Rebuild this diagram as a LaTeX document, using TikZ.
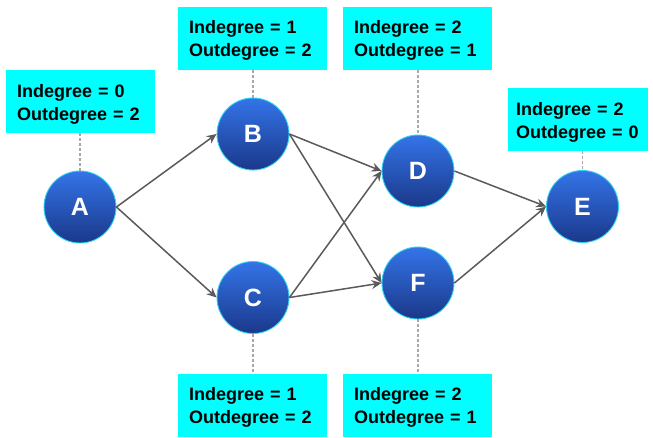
\documentclass[tikz,border=0pt]{standalone}
\usepackage{fontspec}
\setmainfont{Liberation Sans}
\usetikzlibrary{arrows.meta}

\definecolor{boxcyan}{HTML}{00FFFF}
\definecolor{balltop}{HTML}{3474E8}
\definecolor{ballbot}{HTML}{1A388A}
\definecolor{ballrim}{HTML}{2ED3F2}
\definecolor{edgegray}{HTML}{5A5A5A}
\definecolor{leadgray}{HTML}{A8A8A8}

\begin{document}
\begin{tikzpicture}[x=1pt,y=-1pt,
  vertex/.style={circle, minimum size=72pt, inner sep=0pt,
    top color=balltop, bottom color=ballbot, draw=ballrim, line width=0.9pt,
    text=white, font=\fontsize{25}{25}\selectfont\bfseries},
  degbox/.style={rectangle, fill=boxcyan, minimum height=63pt,
    inner xsep=11pt, inner ysep=0pt, align=left, text width=#1,
    font=\fontsize{18}{23}\selectfont\bfseries},
  edge/.style={draw=edgegray, line width=1.5pt,
    -{Stealth[length=10pt,width=9pt,inset=3.5pt]}},
  lead/.style={draw=leadgray, line width=1.3pt, dash pattern=on 3pt off 2pt}
]
\useasboundingbox (0,0) rectangle (653,437);

% vertices
\node[vertex] (A) at (80,207) {A};
\node[vertex] (B) at (253,134) {B};
\node[vertex] (C) at (253,297.5) {C};
\node[vertex] (D) at (418,171) {D};
\node[vertex] (F) at (418,283) {F};
\node[vertex] (E) at (582.5,206.5) {E};

% degree boxes
\node[degbox=127pt, anchor=north west] (Abox) at (6,70)
  {\rule{0pt}{18pt}Indegree = 0\\Outdegree = 2};
\node[degbox=127pt, anchor=north west] (Bbox) at (178,6.5)
  {\rule{0pt}{18pt}Indegree = 1\\Outdegree = 2};
\node[degbox=127pt, anchor=north west] (Dbox) at (343,6.5)
  {\rule{0pt}{18pt}Indegree = 2\\Outdegree = 1};
\node[degbox=124pt, inner xsep=8pt, anchor=north west] (Ebox) at (508,88)
  {\rule{0pt}{18pt}Indegree = 2\\Outdegree = 0};
\node[degbox=127pt, anchor=north west] (Cbox) at (178,373.5)
  {\rule{0pt}{18pt}Indegree = 1\\Outdegree = 2};
\node[degbox=127pt, anchor=north west] (Fbox) at (343,373.5)
  {\rule{0pt}{18pt}Indegree = 2\\Outdegree = 1};

% dashed leaders from boxes to vertices
\draw[lead] (Abox.south -| A) -- (A.north);
\draw[lead] (Bbox.south -| B) -- (B.north);
\draw[lead] (Dbox.south -| D) -- (D.north);
\draw[lead] (Ebox.south -| E) -- (E.north);
\draw[lead] (C.south) -- (Cbox.north -| C);
\draw[lead] (F.south) -- (Fbox.north -| F);

% directed edges
\draw[edge] (A.east) -- (B.west);
\draw[edge] (A.east) -- (C.west);
\draw[edge] (B.east) -- (D.west);
\draw[edge] (B.east) -- (F.west);
\draw[edge] (C.east) -- (D.west);
\draw[edge] (C.east) -- (F.west);
\draw[edge] (D.east) -- (E.west);
\draw[edge] (F.east) -- (E.west);
\end{tikzpicture}
\end{document}
